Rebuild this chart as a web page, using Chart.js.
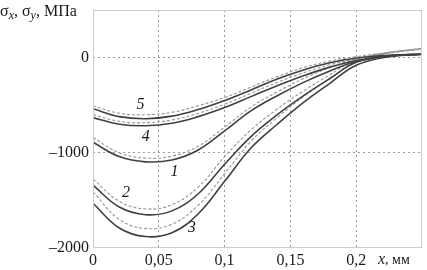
<!DOCTYPE html>
<html>
<head>
<meta charset="utf-8">
<script src="https://cdn.jsdelivr.net/npm/chart.js@4/dist/chart.umd.min.js"></script>
<style>
  html, body { margin: 0; padding: 0; background: #fff; }
  #wrap { width: 427px; height: 270px; }
</style>
</head>
<body>
<div id="wrap"><canvas id="stressChart" width="427" height="270"></canvas></div>
<script>
// x positions, mm
const xs = [0, 0.02, 0.04, 0.06, 0.08, 0.1, 0.12, 0.14, 0.16, 0.18, 0.2, 0.225, 0.25];

// stress, MPa (solid = curve, dashed = its companion)
const c1Solid  = [-890, -1040, -1095, -1075, -970, -770, -560, -400, -260, -140, -40, 20, 35];
const c1Dashed = [-840, -1000, -1055, -1035, -930, -730, -520, -360, -220, -105, -15, 50, 90];
const c2Solid  = [-1340, -1570, -1650, -1610, -1430, -1120, -830, -600, -400, -220, -50, 15, 35];
const c2Dashed = [-1275, -1510, -1590, -1545, -1360, -1040, -760, -540, -350, -180, -20, 55, 95];
const c3Solid  = [-1530, -1790, -1880, -1840, -1640, -1300, -950, -700, -470, -270, -80, 10, 35];
const c3Dashed = [-1410, -1700, -1795, -1750, -1550, -1220, -880, -630, -410, -220, -40, 50, 95];
const c4Solid  = [-630, -700, -716, -690, -620, -525, -410, -295, -190, -100, -30, 20, 35];
const c4Dashed = [-600, -670, -684, -655, -585, -490, -375, -260, -160, -75, -15, 45, 90];
const c5Solid  = [-537, -620, -642, -615, -545, -450, -340, -225, -130, -55, -5, 25, 35];
const c5Dashed = [-505, -585, -600, -575, -505, -420, -310, -200, -105, -35, 10, 55, 95];

const xTicks = [0, 0.05, 0.1, 0.15, 0.2, 0.25];
const xTickLabels = ['0', '0,05', '0,1', '0,15', '0,2', ''];
const yTicks = [-2000, -1000, 0];
const yTickLabels = ['\u20132000', '\u20131000', '0'];

// curve numbers and where they sit (data units)
const curveNames = ['5', '4', '1', '2', '3'];
const curveLabelX = [0.036, 0.040, 0.062, 0.025, 0.075];
const curveLabelY = [-495, -830, -1200, -1420, -1790];

const serif = '"Liberation Serif", "DejaVu Serif", serif';

function toPoints(ys) {
    return xs.map((x, i) => ({ x: x, y: ys[i] }));
}

function solid(ys) {
    return {
        data: toPoints(ys),
        borderColor: '#404040',
        borderWidth: 1.6,
        pointRadius: 0,
        tension: 0.4,
        fill: false
    };
}

function dashed(ys) {
    return {
        data: toPoints(ys),
        borderColor: '#959595',
        borderWidth: 1.1,
        borderDash: [3, 2],
        pointRadius: 0,
        tension: 0.4,
        fill: false
    };
}

// frame, titles and curve numbers
const decorPlugin = {
    id: 'decor',
    afterDraw(chart) {
        const ctx = chart.ctx;
        const a = chart.chartArea;
        const xs_ = chart.scales.x;
        const ys_ = chart.scales.y;
        ctx.save();
        ctx.strokeStyle = '#cccccc';
        ctx.lineWidth = 1;
        ctx.setLineDash([]);
        ctx.strokeRect(a.left + 0.5, a.top + 0.5, a.right - a.left - 1, a.bottom - a.top - 1);

        ctx.fillStyle = '#1a1a1a';
        ctx.textBaseline = 'alphabetic';
        ctx.textAlign = 'left';

        // y title: σx, σy, МПа
        let px = 0;
        const base = 16;
        const parts = [
            ['\u03c3', '16px ' + serif, 0],
            ['x', 'italic 12px ' + serif, 3],
            [', \u03c3', '16px ' + serif, 0],
            ['y', 'italic 12px ' + serif, 3],
            [', \u041c\u041f\u0430', '16px ' + serif, 0]
        ];
        parts.forEach(p => {
            ctx.font = p[1];
            ctx.fillText(p[0], px, base + p[2]);
            px += ctx.measureText(p[0]).width;
        });

        // x title: x, мм
        px = 378;
        const xb = 264;
        ctx.font = 'italic 16px ' + serif;
        ctx.fillText('x', px, xb);
        px += ctx.measureText('x').width;
        ctx.font = '14px ' + serif;
        ctx.fillText(', \u043c\u043c', px, xb);

        // curve numbers
        ctx.font = 'italic 16px ' + serif;
        ctx.textAlign = 'center';
        ctx.textBaseline = 'middle';
        curveNames.forEach((n, i) => {
            ctx.fillText(n, xs_.getPixelForValue(curveLabelX[i]), ys_.getPixelForValue(curveLabelY[i]));
        });
        ctx.restore();
    }
};

var ctx = document.getElementById('stressChart').getContext('2d');
new Chart(ctx, {
    type: 'line',
    data: {
        datasets: [
            dashed(c5Dashed), solid(c5Solid),
            dashed(c4Dashed), solid(c4Solid),
            dashed(c1Dashed), solid(c1Solid),
            dashed(c2Dashed), solid(c2Solid),
            dashed(c3Dashed), solid(c3Solid)
        ]
    },
    options: {
        responsive: false,
        animation: false,
        layout: { padding: { top: 10, right: 5, left: 0, bottom: 0 } },
        plugins: {
            legend: { display: false },
            tooltip: { enabled: false }
        },
        scales: {
            x: {
                type: 'linear',
                min: 0,
                max: 0.25,
                afterBuildTicks: s => { s.ticks = xTicks.map(v => ({ value: v })); },
                afterFit: s => { s.height = 22; s.paddingLeft = 0; s.paddingRight = 0; },
                border: { display: false, dash: [2, 3] },
                grid: {
                    color: c => (c.tick && c.tick.value > 0 && c.tick.value < 0.25) ? '#9a9a9a' : 'rgba(0,0,0,0)',
                    lineWidth: 1,
                    drawTicks: false
                },
                ticks: {
                    padding: 3,
                    maxRotation: 0,
                    autoSkip: false,
                    color: '#1a1a1a',
                    font: { family: serif, size: 16 },
                    callback: (v, i) => xTickLabels[i]
                }
            },
            y: {
                type: 'linear',
                min: -2000,
                max: 500,
                afterBuildTicks: s => { s.ticks = yTicks.map(v => ({ value: v })); },
                afterFit: s => { s.width = 93; s.paddingTop = 0; s.paddingBottom = 0; },
                border: { display: false, dash: [2, 3] },
                grid: {
                    color: c => (c.tick && c.tick.value > -2000) ? '#9a9a9a' : 'rgba(0,0,0,0)',
                    lineWidth: 1,
                    drawTicks: false
                },
                ticks: {
                    padding: 4,
                    color: '#1a1a1a',
                    font: { family: serif, size: 16 },
                    callback: (v, i) => yTickLabels[i]
                }
            }
        }
    },
    plugins: [decorPlugin]
});
</script>
</body>
</html>
